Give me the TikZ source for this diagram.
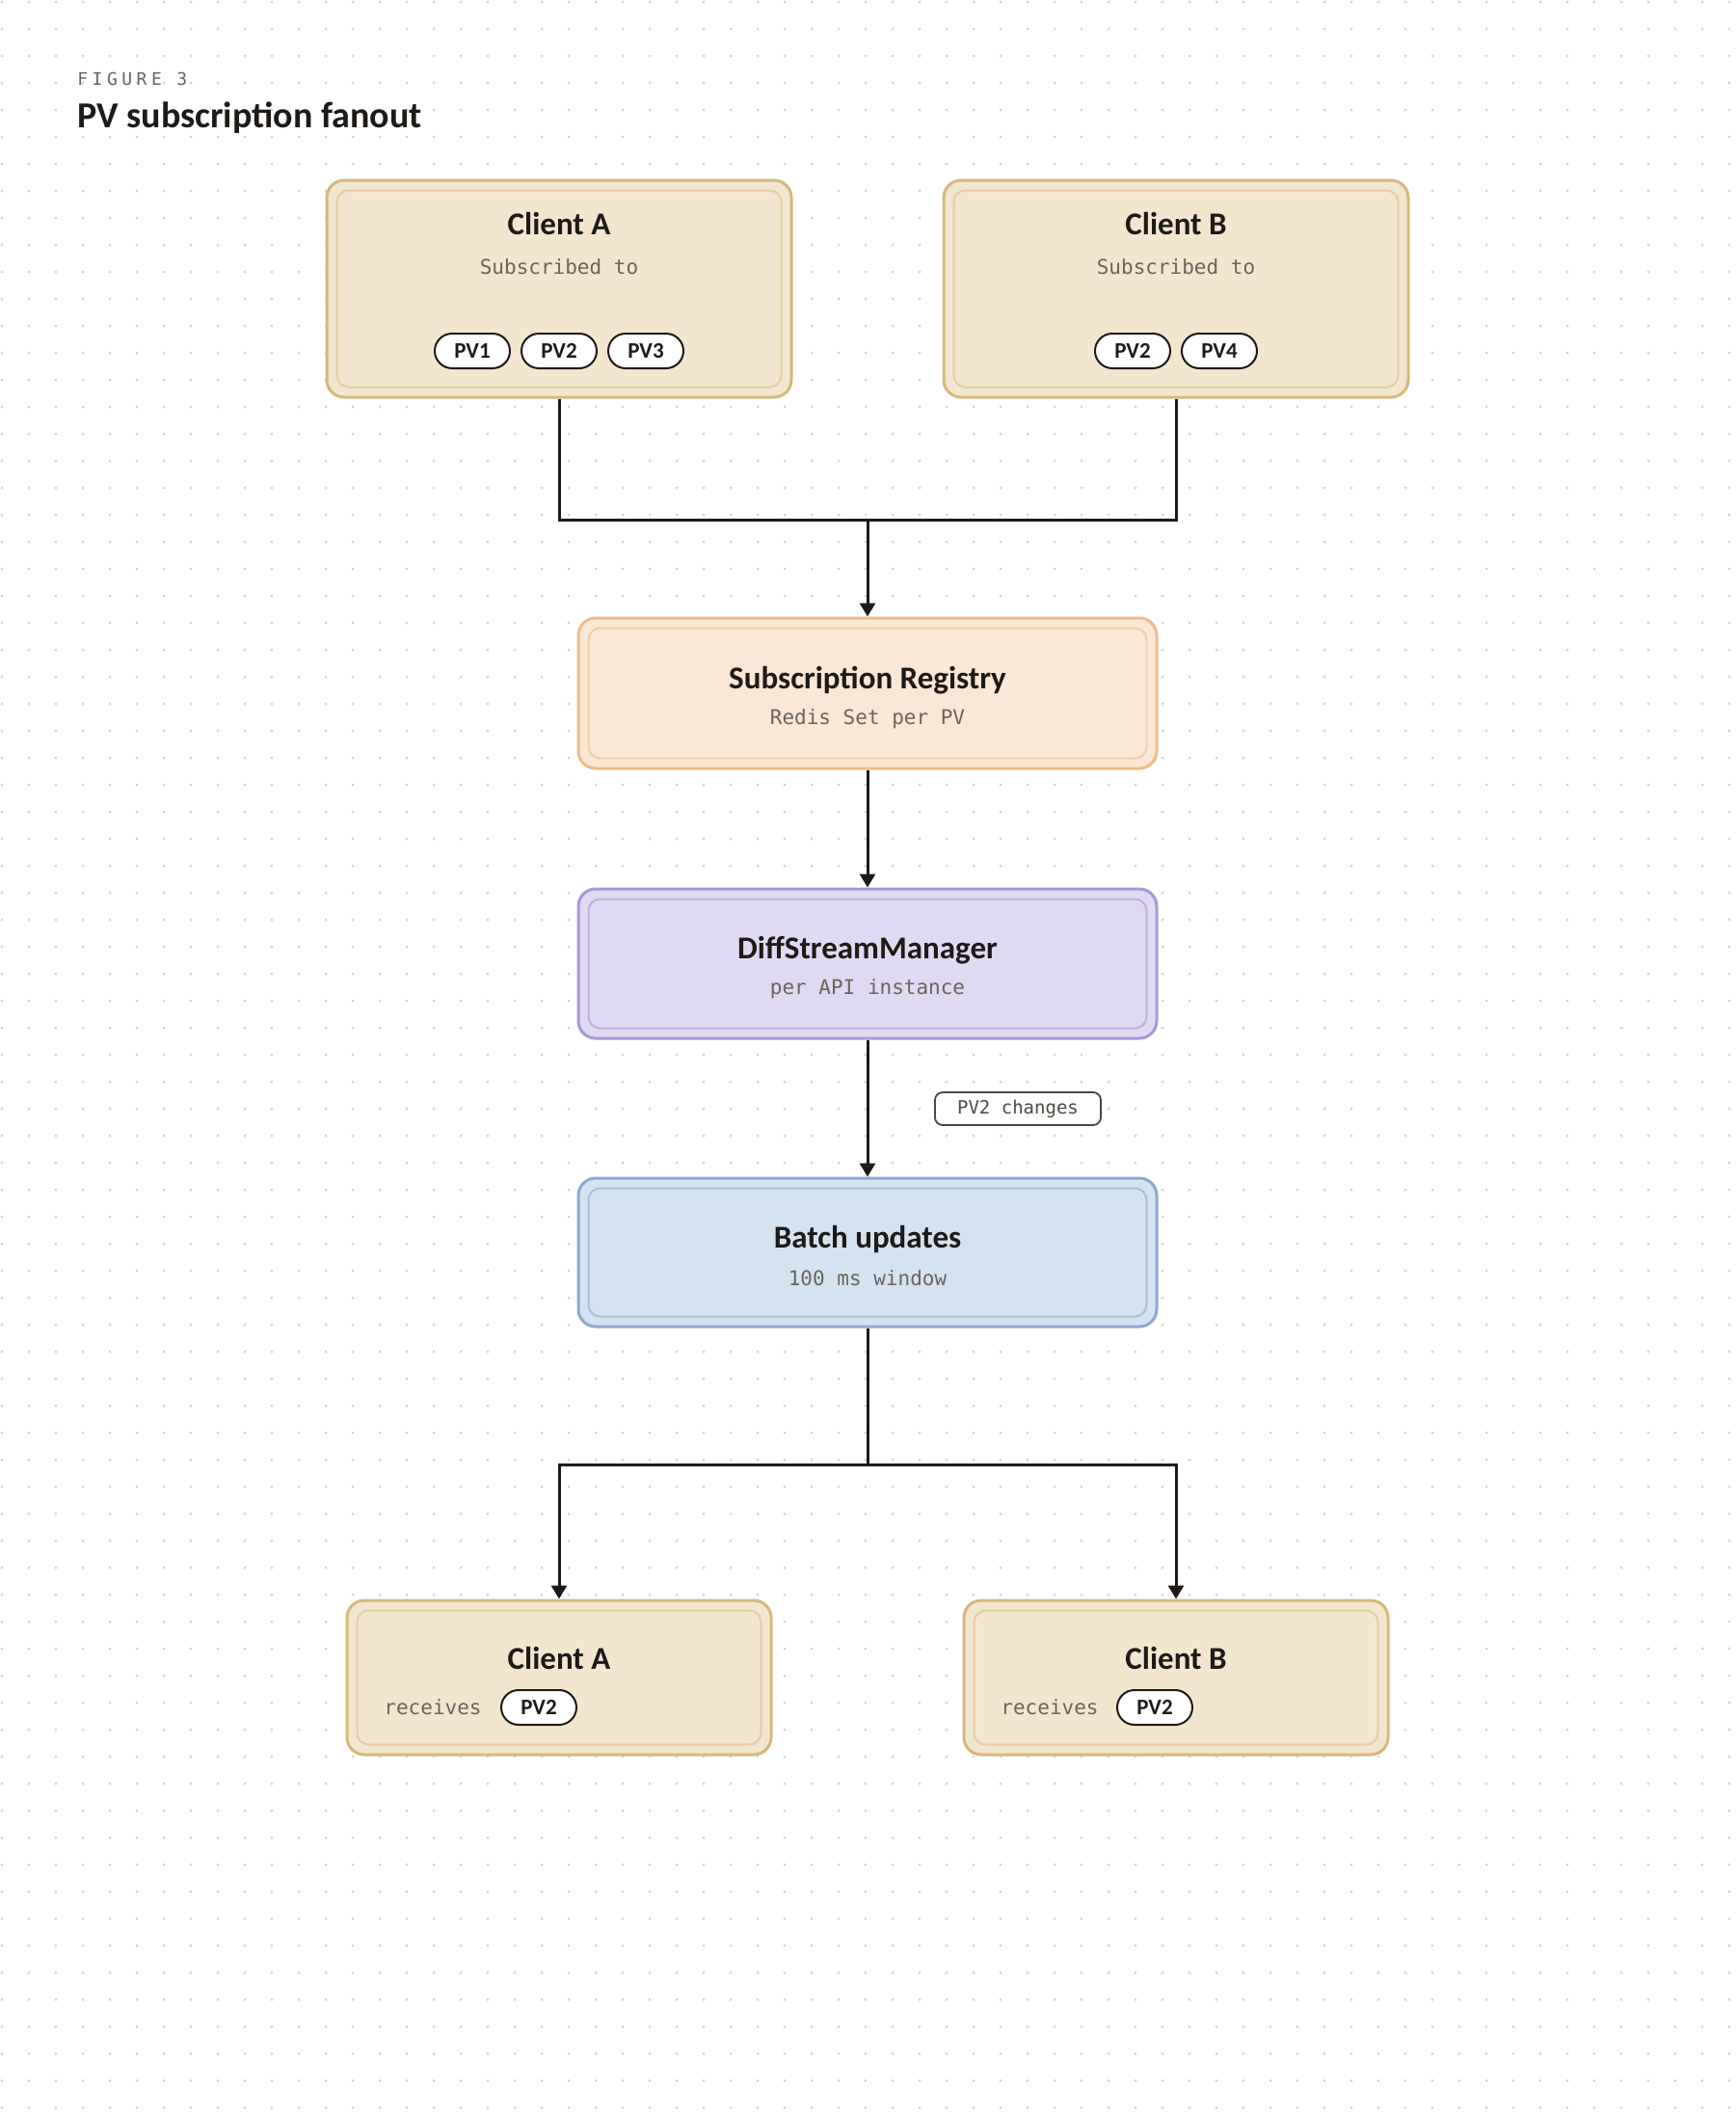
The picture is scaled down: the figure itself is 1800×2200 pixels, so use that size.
\documentclass[tikz,border=0pt]{standalone}
\usepackage{fontspec}
\setmainfont{Carlito}
\newfontfamily\codefont{DejaVu Sans Mono}
\newfontfamily\figfont[LetterSpace=25]{DejaVu Sans Mono}
\usetikzlibrary{arrows.meta, positioning}

\definecolor{inkdark}{HTML}{1E1A17}
\definecolor{inkgrey}{HTML}{6B645C}
\definecolor{gridpt}{HTML}{D6D1C8}
\definecolor{clientfill}{HTML}{F3E6CF}
\definecolor{clientline}{HTML}{D5B97B}
\definecolor{clientin}{HTML}{E3CFA2}
\definecolor{regfill}{HTML}{FBE7D5}
\definecolor{regline}{HTML}{EDBC88}
\definecolor{regin}{HTML}{F2CFA8}
\definecolor{dsmfill}{HTML}{E0D9F3}
\definecolor{dsmline}{HTML}{A898D6}
\definecolor{dsmin}{HTML}{BDB1E1}
\definecolor{batfill}{HTML}{D4E2F1}
\definecolor{batline}{HTML}{8EA9CF}
\definecolor{batin}{HTML}{AAC0DD}

\tikzset{
  stage/.style={draw=#1line, fill=#1fill, line width=1.5pt, rounded corners=9pt, inner sep=0pt},
  boxtitle/.style={font=\fontsize{16.5}{20}\selectfont\bfseries, text=inkdark, inner sep=0pt},
  subtext/.style={font=\codefont\fontsize{10.5}{12}\selectfont, text=inkgrey, inner sep=0pt},
  pill/.style={draw=inkdark, fill=white, line width=1pt, rounded corners=9pt,
    minimum width=39pt, minimum height=18pt, inner sep=0pt,
    font=\fontsize{11.5}{13}\selectfont\bfseries, text=inkdark},
  wire/.style={draw=inkdark, line width=1.5pt},
  flow/.style={wire, -{Triangle[length=7pt, width=8pt]}},
}

\begin{document}
\begin{tikzpicture}[x=0.5pt, y=-0.5pt]
  % background and dot grid
  \fill[white] (0,0) rectangle (1800,2200);
  \foreach \i in {0,...,64}{
    \foreach \j in {0,...,78}{
      \fill[gridpt] (2+28*\i, 2+28*\j) circle (0.75pt);
    }
  }
  \useasboundingbox (0,0) rectangle (1800,2200);

  % heading
  \node[anchor=base west, inner sep=0pt, text=inkgrey] (figno) at (80,88)
    {\figfont\fontsize{9}{11}\selectfont FIGURE 3};
  \node[anchor=base west, inner sep=0pt, text=inkdark] (figtitle) at (80,132)
    {\fontsize{19}{23}\selectfont\bfseries PV subscription fanout};

  % stages
  \node[stage=client, minimum width=241pt, minimum height=112.5pt] (cla) at (580,299.5) {};
  \node[stage=client, minimum width=241pt, minimum height=112.5pt] (clb) at (1220,299.5) {};
  \node[stage=reg, minimum width=300pt, minimum height=78pt] (reg) at (900,719) {};
  \node[stage=dsm, minimum width=300pt, minimum height=77.5pt] (dsm) at (900,999.5) {};
  \node[stage=bat, minimum width=300pt, minimum height=77pt] (bat) at (900,1299) {};
  \node[stage=client, minimum width=220pt, minimum height=80pt] (rca) at (580,1740) {};
  \node[stage=client, minimum width=220pt, minimum height=80pt] (rcb) at (1220,1740) {};

  % inner frames
  \foreach \n/\c in {cla/clientin, clb/clientin, reg/regin, dsm/dsmin, bat/batin, rca/clientin, rcb/clientin}{
    \draw[\c, line width=1pt, rounded corners=6pt]
      ([xshift=6pt, yshift=-6pt]\n.north west) rectangle ([xshift=-6pt, yshift=6pt]\n.south east);
  }

  % texts inside stages
  \node[boxtitle] (clatitle) at (580,232) {Client A};
  \node[subtext] (clasub) at (580,277) {Subscribed to};
  \foreach \x/\t in {490/PV1, 580/PV2, 670/PV3}
    \node[pill] (cla\t) at (\x,364) {\t};

  \node[boxtitle] (clbtitle) at (1220,232) {Client B};
  \node[subtext] (clbsub) at (1220,277) {Subscribed to};
  \foreach \x/\t in {1175/PV2, 1265/PV4}
    \node[pill] (clb\t) at (\x,364) {\t};

  \node[boxtitle] (regtitle) at (900,706) {Subscription Registry};
  \node[subtext] (regsub) at (900,746) {Redis Set per PV};

  \node[boxtitle] (dsmtitle) at (900,986) {DiffStreamManager};
  \node[subtext] (dsmsub) at (900,1026) {per API instance};

  \node[boxtitle] (battitle) at (900,1285) {Batch updates};
  \node[subtext] (batsub) at (900,1326) {100 ms window};

  \node[boxtitle] (rcatitle) at (580,1720) {Client A};
  \node[subtext] (rcarecv) at (449,1771) {receives};
  \node[pill] (rcaPV2) at (559,1771) {PV2};

  \node[boxtitle] (rcbtitle) at (1220,1720) {Client B};
  \node[subtext] (rcbrecv) at (1089,1771) {receives};
  \node[pill] (rcbPV2) at (1198,1771) {PV2};

  % connectors
  \coordinate (merge) at (900,539);
  \coordinate (split) at (900,1519);
  \draw[wire] (cla.south) |- (merge) -| (clb.south);
  \draw[flow] (merge) -- (reg.north);
  \draw[flow] (reg.south) -- (dsm.north);
  \draw[flow] (dsm.south) -- (bat.north);
  \draw[wire] (bat.south) -- (split);
  \draw[flow] (split) -| (rca.north);
  \draw[flow] (split) -| (rcb.north);

  \node[draw=inkgrey!70!black, fill=white, line width=0.9pt, rounded corners=4pt,
    minimum width=86pt, minimum height=17pt, inner sep=0pt,
    font=\codefont\fontsize{9.5}{11}\selectfont, text=inkgrey!75!black] (change) at (1056,1150) {PV2 changes};
\end{tikzpicture}
\end{document}
